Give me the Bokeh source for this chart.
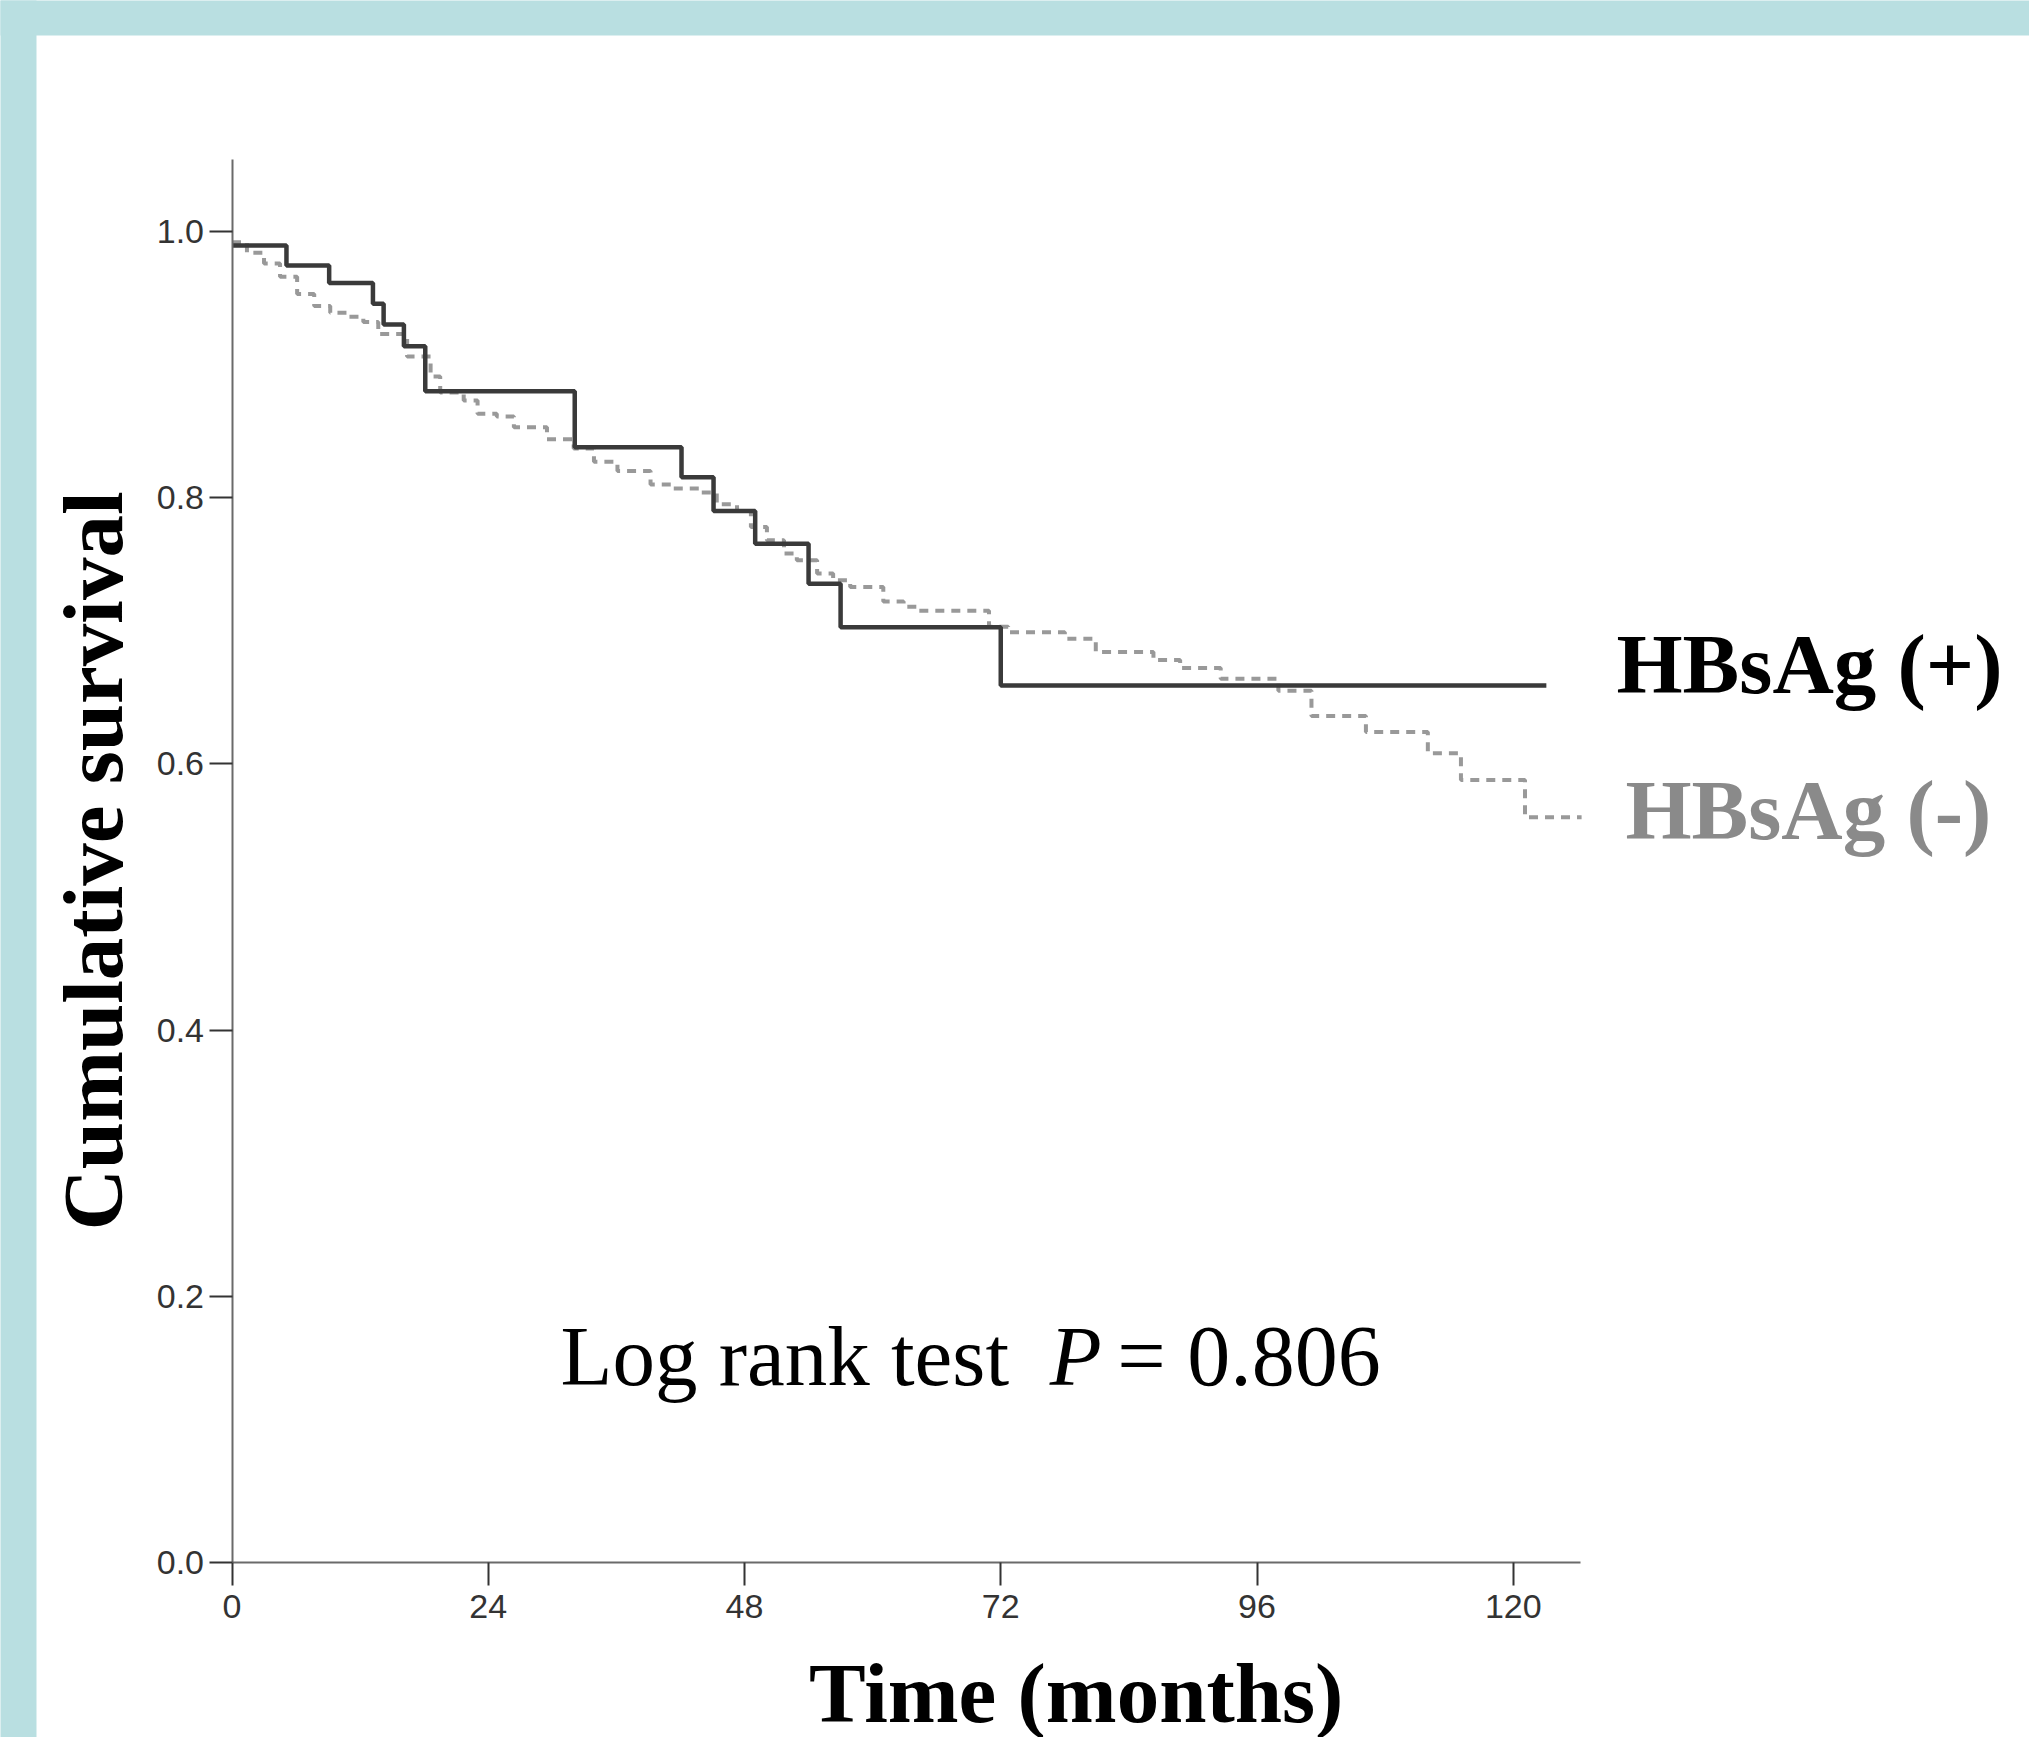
from bokeh.plotting import figure
from bokeh.models import Range1d, Label, BoxAnnotation, FixedTicker, PrintfTickFormatter
from bokeh.embed import file_html
from bokeh.resources import INLINE

# ---------------- data ----------------
x_ticks = [0, 24, 48, 72, 96, 120]
y_ticks = [0.0, 0.2, 0.4, 0.6, 0.8, 1.0]

# HBsAg (+) Kaplan-Meier curve (months, cumulative survival)
pos_time = [0, 5.1, 9.1, 13.2, 14.2, 16.1, 18.1, 32.1, 42.1, 45.1, 49.0, 54.0, 57.0, 72.0, 123.1]
pos_surv = [0.9895, 0.9745, 0.9613, 0.9457, 0.9301, 0.9138, 0.8800, 0.8380, 0.8154, 0.7900,
            0.7654, 0.7353, 0.7027, 0.6590, 0.6590]

# HBsAg (-) Kaplan-Meier curve
neg_time = [0, 1.4, 3.0, 4.5, 6.1, 7.7, 9.2, 10.8, 12.3, 13.7, 16.4, 18.6, 19.5, 21.7, 23.0,
            24.8, 26.4, 29.5, 32.0, 33.9, 36.1, 39.2, 41.1, 43.9, 45.4, 47.3, 48.6, 50.1, 51.7,
            52.9, 54.8, 56.3, 57.9, 61.0, 62.9, 64.2, 70.9, 72.7, 78.0, 80.9, 86.3, 88.8, 92.6,
            98.0, 101.1, 106.2, 112.0, 115.1, 121.1, 126.4]
neg_surv = [0.992, 0.984, 0.976, 0.966, 0.953, 0.944, 0.939, 0.936, 0.932, 0.923, 0.906, 0.891,
            0.879, 0.873, 0.863, 0.861, 0.853, 0.844, 0.837, 0.827, 0.820, 0.810, 0.807, 0.804,
            0.795, 0.790, 0.778, 0.768, 0.758, 0.753, 0.743, 0.738, 0.733, 0.722, 0.718, 0.715,
            0.703, 0.699, 0.694, 0.684, 0.678, 0.672, 0.664, 0.655, 0.636, 0.624, 0.608, 0.588,
            0.560, 0.560]

group_labels = ["HBsAg (+)", "HBsAg (-)"]
test_text = ["Log rank test", "P", "= 0.806"]
x_title = "Time (months)"
y_title = "Cumulative survival"

# ---------------- figure ----------------
W, H = 2029, 1737
TEAL = "#B9DFE1"
SERIF = "Liberation Serif"
SANS = "Liberation Sans"

# the frame covers the whole canvas; the axes are pinned at 0
p = figure(width=W, height=H, output_backend="svg", toolbar_location=None,
           x_range=Range1d(-21.682, 168.35), y_range=Range1d(-0.13148, 1.17356),
           min_border=0)

p.border_fill_color = "white"
p.background_fill_color = "white"
p.outline_line_color = None
p.grid.visible = False

# teal page bands (top and left)
p.add_layout(BoxAnnotation(left=-40, right=200, bottom=1.14726, top=2.0,
                           fill_color=TEAL, fill_alpha=1.0, line_color=None, level="underlay"))
p.add_layout(BoxAnnotation(left=-40, right=-18.31, bottom=-1.0, top=2.0,
                           fill_color=TEAL, fill_alpha=1.0, line_color=None, level="underlay"))

# axes
p.xaxis.ticker = FixedTicker(ticks=x_ticks)
p.yaxis.ticker = FixedTicker(ticks=y_ticks)
p.yaxis.formatter = PrintfTickFormatter(format="%.1f")
p.xaxis.fixed_location = 0
p.yaxis.fixed_location = 0
p.xaxis.bounds = (0, 126.30)
p.yaxis.bounds = (0, 1.0541)
for ax in (p.xaxis, p.yaxis):
    ax.axis_line_color = "#6a6a6a"
    ax.axis_line_width = 2
    ax.major_tick_line_color = "#333333"
    ax.major_tick_line_width = 2
    ax.major_tick_out = 23
    ax.major_tick_in = 0
    ax.minor_tick_line_color = None
    ax.major_label_text_font = SANS
    ax.major_label_text_font_size = "34px"
    ax.major_label_text_color = "#333333"
p.xaxis.major_label_standoff = 9
p.yaxis.major_label_standoff = 5

p.yaxis.axis_label = y_title
p.yaxis.axis_label_text_font = SERIF
p.yaxis.axis_label_text_font_size = "85px"
p.yaxis.axis_label_text_font_style = "bold"
p.yaxis.axis_label_text_color = "black"
p.yaxis.axis_label_standoff = 14

# curves
p.step(neg_time, neg_surv, mode="after", line_color="#999999", line_width=4, line_dash="9 7")
p.step(pos_time, pos_surv, mode="after", line_color="#3a3a3a", line_width=4.5)

# texts
def lab(x, y, text, color="black", style="bold", size="85px"):
    p.add_layout(Label(x=x, y=y, text=text, text_font=SERIF, text_font_size=size,
                       text_font_style=style, text_color=color,
                       text_align="left", text_baseline="alphabetic"))

lab(129.67, 0.6754, group_labels[0], "black")
lab(130.51, 0.5657, group_labels[1], "#8a8a8a")
lab(30.77, 0.1548, test_text[0], "black", "normal", "85px")
lab(76.6, 0.1548, test_text[1], "black", "italic", "85px")
lab(82.9, 0.1548, test_text[2], "black", "normal", "86px")
lab(54.04, -0.0984, x_title, "black", "bold")

open("out.html", "w").write(file_html(p, INLINE))
